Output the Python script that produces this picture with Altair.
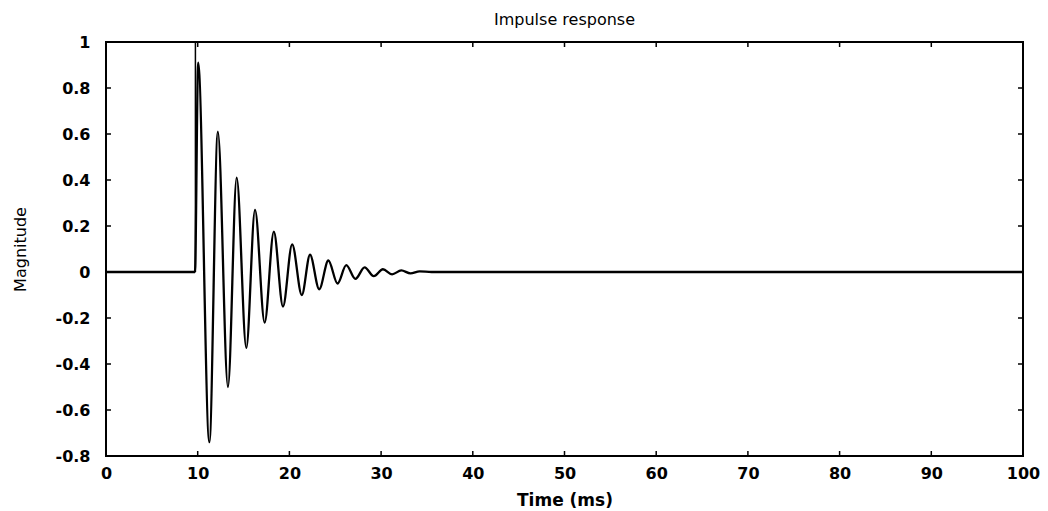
import altair as alt
import pandas as pd

# Impulse response: time (ms) and magnitude
t_ms = [0, 9.7, 10.05, 11.27, 12.2, 13.3, 14.25, 15.3, 16.25, 17.3, 18.3, 19.3,
        20.3, 21.35, 22.25, 23.25, 24.25, 25.25, 26.2, 27.2, 28.2, 29.2, 30.2,
        31.2, 32.2, 33.2, 34.2, 35.5, 100]
magnitude = [0, 0, 0.91, -0.74, 0.61, -0.50, 0.41, -0.33, 0.27, -0.22, 0.175, -0.15,
             0.12, -0.10, 0.075, -0.075, 0.05, -0.05, 0.03, -0.03, 0.02, -0.018, 0.012,
             -0.01, 0.007, -0.006, 0.003, 0, 0]

# initial spike at the onset
spike_t = [9.75]
spike_lo = [0.0]
spike_hi = [1.0]

x_ticks = [0, 10, 20, 30, 40, 50, 60, 70, 80, 90, 100]
y_ticks = [-0.8, -0.6, -0.4, -0.2, 0, 0.2, 0.4, 0.6, 0.8, 1]

W, H = 917, 414
TICK = 5
FONT = "DejaVu Sans"

df = pd.DataFrame({"t": t_ms, "m": magnitude})
spike_df = pd.DataFrame({"t": spike_t, "m": spike_lo, "m2": spike_hi})
xt = pd.DataFrame({"t": x_ticks})
yt = pd.DataFrame({"m": y_ticks})

xscale = alt.Scale(domain=[0, 100], nice=False, zero=False)
yscale = alt.Scale(domain=[-0.8, 1], nice=False, zero=False)

x_axis = alt.Axis(values=x_ticks, title="Time (ms)", ticks=False, domain=False,
                  grid=False, labelPadding=9, labelFontSize=16, labelFontWeight="bold",
                  labelFont=FONT, labelColor="black",
                  titleFont=FONT, titleFontSize=17, titleFontWeight="bold",
                  titleColor="black", titleX=W / 2, titleY=44,
                  titleBaseline="middle", labelFlush=False)
y_axis = alt.Axis(values=y_ticks, title="Magnitude", ticks=False, domain=False,
                  grid=False, labelPadding=16, labelFontSize=16, labelFontWeight="bold",
                  labelFont=FONT, labelColor="black",
                  labelExpr="'' + datum.value",
                  titleFont=FONT, titleFontSize=16, titleFontWeight="normal",
                  titleColor="black", titleX=-86, titleY=H / 2,
                  titleAngle=-90, titleBaseline="middle", titleAlign="center",
                  labelFlush=False)

line = alt.Chart(df).mark_line(color="black", strokeWidth=2.3, interpolate="monotone").encode(
    x=alt.X("t:Q", scale=xscale, axis=x_axis),
    y=alt.Y("m:Q", scale=yscale, axis=y_axis),
)

spike = alt.Chart(spike_df).mark_rule(color="black", strokeWidth=1.5).encode(
    x=alt.X("t:Q", scale=xscale, axis=x_axis),
    y=alt.Y("m:Q", scale=yscale, axis=y_axis),
    y2="m2:Q",
)

bottom_ticks = alt.Chart(xt).mark_rule(color="black", strokeWidth=1.5).encode(
    x=alt.X("t:Q", scale=xscale, axis=x_axis), y=alt.value(H), y2=alt.value(H - TICK))
top_ticks = alt.Chart(xt).mark_rule(color="black", strokeWidth=1.5).encode(
    x=alt.X("t:Q", scale=xscale, axis=x_axis), y=alt.value(0), y2=alt.value(TICK))
left_ticks = alt.Chart(yt).mark_rule(color="black", strokeWidth=1.5).encode(
    y=alt.Y("m:Q", scale=yscale, axis=y_axis), x=alt.value(0), x2=alt.value(TICK))
right_ticks = alt.Chart(yt).mark_rule(color="black", strokeWidth=1.5).encode(
    y=alt.Y("m:Q", scale=yscale, axis=y_axis), x=alt.value(W), x2=alt.value(W - TICK))

chart = alt.layer(line, spike, bottom_ticks, top_ticks, left_ticks, right_ticks).properties(
    width=W, height=H,
    background="white",
    autosize=alt.AutoSizeParams(type="none"),
    padding={"left": 98, "top": 34, "right": 17, "bottom": 55},
    title=alt.TitleParams("Impulse response", fontSize=16, font=FONT, fontWeight="normal",
                          color="black", anchor="middle", offset=6),
).configure_view(stroke="black", strokeWidth=2)

chart.save("out.html", embed_options={"renderer": "svg", "actions": False})
